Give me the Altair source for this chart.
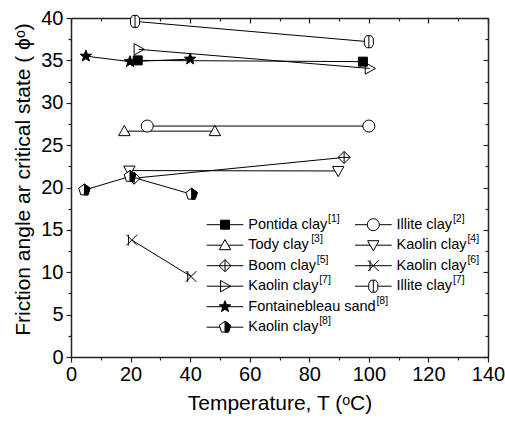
import math
import altair as alt
import pandas as pd

# ---------------- data ----------------
names = ["Pontida clay", "Illite clay", "Tody clay", "Kaolin clay", "Boom clay",
         "Kaolin clay", "Kaolin clay", "Illite clay", "Fontainebleau sand", "Kaolin clay"]
refs = ["1", "2", "3", "4", "5", "6", "7", "7", "8", "8"]
T_vals = [[22.4, 98.0], [25.6, 100.0], [17.9, 48.3], [19.6, 89.7], [21.2, 91.7],
          [20.4, 40.3], [22.7, 100.3], [21.5, 100.0], [5.0, 19.8, 40.0], [4.5, 19.8, 40.5]]
phi_vals = [[35.0, 34.85], [27.25, 27.25], [26.65, 26.65], [22.0, 21.95], [21.1, 23.55],
            [13.8, 9.5], [36.3, 34.05], [39.6, 37.2], [35.5, 34.85, 35.15], [19.7, 21.3, 19.2]]
x_ticks = [0, 20, 40, 60, 80, 100, 120, 140]
x_minor = [10, 30, 50, 70, 90, 110, 130]
y_ticks = [0, 5, 10, 15, 20, 25, 30, 35, 40]
y_minor = [2.5, 7.5, 12.5, 17.5, 22.5, 27.5, 32.5, 37.5]
x_title = "Temperature, T (\u1d52C)"
y_title = "Friction angle ar critical state ( \u03d5\u1d52)"

# ---------------- layout ----------------
W, H = 417, 339
X_MAX, Y_MAX = 140, 40
PX_T = W / X_MAX
PX_P = H / Y_MAX
FONT = "Liberation Sans"
LEG_FS, SUP_FS = 14.5, 10.5

keys = [f"{n} [{r}]" for n, r in zip(names, refs)]


def star(ro=1.0, ri=0.42):
    pts = []
    for k in range(10):
        a = math.radians(-90 + 36 * k)
        r = ro if k % 2 == 0 else ri
        pts.append(f"{r * math.cos(a):.3f},{r * math.sin(a):.3f}")
    return "M" + "L".join(pts) + "Z"


def poly(n, r=1.0):
    pts = []
    for k in range(n):
        a = math.radians(-90 + 360 / n * k)
        pts.append(f"{r * math.cos(a):.3f},{r * math.sin(a):.3f}")
    return "M" + "L".join(pts) + "Z"


shapes = [
    "M-0.75,-0.75H0.75V0.75H-0.75Z",
    "circle",
    "M0,-0.95L0.95,0.75L-0.95,0.75Z",
    "M0,0.95L0.95,-0.75L-0.95,-0.75Z",
    "M0,-1L1,0L0,1L-1,0Z M0,-1L0,1 M-1,0L1,0",
    "M-0.9,-0.9L0.9,0.9M-0.9,0.9L0.9,-0.9M-0.55,-0.9L-0.55,0.9",
    "M-0.75,-0.95L0.95,0L-0.75,0.95Z",
    "M-0.4,-1L0.4,-1L0.75,-0.5L0.75,0.5L0.4,1L-0.4,1L-0.75,0.5L-0.75,-0.5Z M0,-1L0,1",
    star(),
    poly(5),
]
fills = ["black", "white", "white", "white", "white", "transparent", "transparent",
         "white", "black", "white"]
half_pent = "M0,-1L0.951,-0.309L0.588,0.809L0,0.809Z"

rows = []
for i, k in enumerate(keys):
    for t, p in zip(T_vals[i], phi_vals[i]):
        rows.append({"key": k, "T": t, "phi": p})
df = pd.DataFrame(rows)

# legend layout (pixels from the plot's top-left corner)
AW = {"P": 667, "o": 556, "n": 556, "t": 278, "i": 222, "d": 556, "a": 556, " ": 278,
      "c": 500, "l": 222, "y": 500, "I": 278, "T": 611, "K": 667, "B": 667, "m": 833,
      "F": 611, "e": 556, "b": 556, "u": 556, "s": 500}


def tw(s, size):
    return sum(AW.get(ch, 556) for ch in s) * size / 1000


cols = [(135.7, 172.3, 154.0, 177.3), (284.0, 320.7, 302.3, 325.5)]
slots = [(0, 0), (0, 1), (1, 0), (1, 1), (2, 0), (2, 1), (3, 0), (3, 1), (4, 0), (5, 0)]
leg = []
for i, k in enumerate(keys):
    r, c = slots[i]
    x1, x2, xm, xt = cols[c]
    py = 206.7 + 20.5 * r
    leg.append({
        "key": k, "x1": x1 / PX_T, "x2": x2 / PX_T, "xm": xm / PX_T, "xt": xt / PX_T,
        "xs": (xt + tw(names[i], LEG_FS) + 0.8) / PX_T,
        "y": Y_MAX - py / PX_P, "label": names[i], "sup": f"[{refs[i]}]",
    })
ldf = pd.DataFrame(leg)

xs = alt.Scale(domain=[0, X_MAX], nice=False, zero=False)
ys = alt.Scale(domain=[0, Y_MAX], nice=False, zero=False)
shape_enc = alt.Shape("key:N", scale=alt.Scale(domain=keys, range=shapes), legend=None)
fill_enc = alt.Fill("key:N", scale=alt.Scale(domain=keys, range=fills), legend=None)

AX = dict(grid=False, domainColor="#222", tickColor="#222", domainWidth=1.5, tickWidth=1.2)

x_main = alt.Axis(orient="bottom", values=x_ticks, tickSize=5, labelFontSize=20, labelFont=FONT,
                  labelColor="black", labelPadding=2, labelFlush=False, labelOverlap=False,
                  title=x_title, titleFont=FONT, titleFontSize=21, titleFontWeight="normal",
                  titleColor="black", titleY=46, titleBaseline="middle", **AX)
y_main = alt.Axis(orient="left", values=y_ticks, tickSize=5, labelFontSize=20, labelFont=FONT,
                  labelColor="black", labelPadding=3, labelOverlap=False,
                  title=y_title, titleFont=FONT, titleFontSize=21, titleFontWeight="normal",
                  titleColor="black", titleX=-48, titleY=161, titleBaseline="middle",
                  titleAlign="center", **AX)


def tick_axis(orient, vals, size, offset=0, domain=False):
    kw = dict(orient=orient, values=vals, tickSize=size, labels=False, domain=domain,
              title=None, **AX)
    if offset:
        kw["offset"] = offset
    return alt.Axis(**kw)


base = alt.Chart(df)

lines = base.mark_line(color="black", strokeWidth=1).encode(
    x=alt.X("T:Q", scale=xs, axis=x_main),
    y=alt.Y("phi:Q", scale=ys, axis=y_main),
    detail="key:N",
    order=alt.Order("T:Q"),
)
pts = base.mark_point(filled=True, stroke="black", strokeWidth=1, size=144, opacity=1).encode(
    x=alt.X("T:Q", scale=xs, axis=None),
    y=alt.Y("phi:Q", scale=ys, axis=None),
    shape=shape_enc, fill=fill_enc,
)
pent = base.transform_filter(alt.datum.key == keys[9]).mark_point(
    filled=True, fill="black", stroke="black", strokeWidth=1, size=144, opacity=1,
    shape=half_pent).encode(
    x=alt.X("T:Q", scale=xs, axis=None),
    y=alt.Y("phi:Q", scale=ys, axis=None),
)

lb = alt.Chart(ldf)
leg_rules = lb.mark_rule(color="black", strokeWidth=1).encode(
    x=alt.X("x1:Q", scale=xs, axis=None), x2="x2:Q",
    y=alt.Y("y:Q", scale=ys, axis=None),
)
leg_pts = lb.mark_point(filled=True, stroke="black", strokeWidth=1, size=144, opacity=1).encode(
    x=alt.X("xm:Q", scale=xs, axis=None),
    y=alt.Y("y:Q", scale=ys, axis=None),
    shape=shape_enc, fill=fill_enc,
)
leg_pent = lb.transform_filter(alt.datum.key == keys[9]).mark_point(
    filled=True, fill="black", stroke="black", strokeWidth=1, size=144, opacity=1,
    shape=half_pent).encode(
    x=alt.X("xm:Q", scale=xs, axis=None),
    y=alt.Y("y:Q", scale=ys, axis=None),
)
leg_txt = lb.mark_text(align="left", baseline="middle", font=FONT, fontSize=LEG_FS,
                       color="black").encode(
    x=alt.X("xt:Q", scale=xs, axis=None),
    y=alt.Y("y:Q", scale=ys, axis=None),
    text="label:N",
)
leg_sup = lb.mark_text(align="left", baseline="middle", font=FONT, fontSize=SUP_FS,
                       color="black", dy=-6).encode(
    x=alt.X("xs:Q", scale=xs, axis=None),
    y=alt.Y("y:Q", scale=ys, axis=None),
    text="sup:N",
)


def axis_layer(xa, ya):
    return base.mark_point(opacity=0).encode(
        x=alt.X("T:Q", scale=xs, axis=xa),
        y=alt.Y("phi:Q", scale=ys, axis=ya),
    )


ax1 = axis_layer(tick_axis("bottom", x_minor, 3), tick_axis("left", y_minor, 3))
ax2 = axis_layer(tick_axis("bottom", x_ticks, 5, offset=-H, domain=True),
                 tick_axis("left", y_ticks, 5, offset=-W, domain=True))
ax3 = axis_layer(tick_axis("bottom", x_minor, 3, offset=-H),
                 tick_axis("left", y_minor, 3, offset=-W))

chart = alt.layer(
    lines, pts, pent, leg_rules, leg_pts, leg_pent, leg_txt, leg_sup, ax1, ax2, ax3
).resolve_axis(x="independent", y="independent").properties(
    width=W, height=H,
    autosize=alt.AutoSizeParams(type="none"),
    padding={"left": 71, "top": 18, "right": 17, "bottom": 68},
).configure_view(stroke=None)

chart.save("out.html", embed_options={"renderer": "svg", "actions": False})
